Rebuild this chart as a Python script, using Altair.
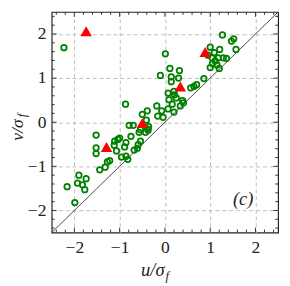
import altair as alt
import pandas as pd

# ---- data ----
green_u = [-2.23, -2.16, -1.99, -1.90, -1.93, -1.82, -1.74, -1.77, -1.52, -1.52,
           -1.52, -1.44, -1.32, -1.27, -1.22, -1.12, -1.11, -1.04, -1.00, -1.07,
           -0.89, -0.86, -0.75, -0.96, -0.86, -0.82, -0.68, -0.61, -0.54, -0.59,
           -0.79, -0.70, -0.57, -0.54, -0.39, -0.43, -0.87, -0.50, -0.39, -0.41,
           -0.36, -0.37, -0.18, -0.16, -0.10, -0.07, -0.04, 0.01, 0.07, 0.11,
           0.07, 0.09, 0.16, 0.14, 0.14, 0.20, 0.21, 0.20, 0.25, 0.32,
           0.30, 0.34, 0.39, 0.41, 0.57, 0.64, 0.70, 0.86, 1.00, 1.21,
           1.09, 1.29, 1.18, 1.04, 1.11, 1.00, 1.20, 1.36, 1.27, 1.47,
           1.52, 1.57, 0.95, 1.05, 1.15]
green_v = [1.69, -1.46, -1.82, -1.20, -1.38, -1.42, -1.28, -1.53, -0.29, -0.58,
           -0.71, -1.08, -1.02, -0.90, -0.87, -0.52, -0.43, -0.39, -0.36, -0.65,
           -0.56, -0.46, -0.32, -0.79, -0.77, -0.84, -0.63, -0.59, -0.43, -0.51,
           -0.07, -0.07, -0.23, -0.17, -0.15, -0.23, 0.41, 0.18, 0.26, 0.05,
           -0.10, -0.18, 0.37, 0.14, 1.06, 0.26, 0.11, 1.55, 0.30, 1.22,
           0.66, 0.51, 0.41, 1.03, 0.92, 0.70, 0.62, 0.23, 0.55, 1.17,
           1.00, 0.37, 0.49, 0.44, 0.78, 0.81, 0.85, 0.99, 1.70, 1.65,
           1.58, 1.46, 1.46, 1.46, 1.39, 1.24, 1.22, 1.45, 1.98, 1.84,
           1.89, 1.65, 1.52, 1.33, 1.30]

red_u = [-1.74, -1.29, -0.50, 0.34, 0.89]
red_v = [2.06, -0.56, -0.02, 0.81, 1.59]

diag = [-2.5, 2.5]
tick_labels = [-2, -1, 0, 1, 2]
minor_ticks = [-2.4, -2.2, -1.8, -1.6, -1.4, -1.2, -0.8, -0.6, -0.4, -0.2,
               0.2, 0.4, 0.6, 0.8, 1.2, 1.4, 1.6, 1.8, 2.2, 2.4]

x_title = ["u/σ"]
y_title = ["v/σ"]
sub_title = ["f"]
panel_label = ["(c)"]

W, H = 233, 227
FONT = "Liberation Serif"
DOM = [-2.5, 2.5]

xs = alt.Scale(domain=DOM, nice=False, zero=False)
ys = alt.Scale(domain=DOM, nice=False, zero=False)

green = pd.DataFrame({"u": green_u, "v": green_v})
red = pd.DataFrame({"u": red_u, "v": red_v})
diag_df = pd.DataFrame({"u": diag, "v": diag})

AX = dict(values=tick_labels, title=None, grid=True, gridDash=[4, 3], gridColor="#bdbdbd",
          gridWidth=1, ticks=False, tickSize=0, domain=False, labelFont=FONT, labelFontSize=18,
          labelColor="#222", labelFlush=False)

line = alt.Chart(diag_df).mark_line(color="#333", strokeWidth=0.9).encode(
    x=alt.X("u:Q", scale=xs, axis=alt.Axis(labelPadding=7, **AX)),
    y=alt.Y("v:Q", scale=ys, axis=alt.Axis(labelPadding=6, **AX)),
)

base = alt.Chart(green).mark_point(
    shape="circle", filled=False, color="#008000", size=32, strokeWidth=1.8, opacity=1
).encode(x=alt.X("u:Q", scale=xs), y=alt.Y("v:Q", scale=ys))

tri = alt.Chart(red).mark_point(
    shape="triangle-up", filled=True, color="#ff0000", size=140, opacity=1
).encode(x=alt.X("u:Q", scale=xs), y=alt.Y("v:Q", scale=ys))


def tick_layers(vals, length):
    dfx = pd.DataFrame({"u": vals})
    dfy = pd.DataFrame({"v": vals})
    cx = alt.Chart(dfx).mark_rule(color="#333", strokeWidth=1)
    cy = alt.Chart(dfy).mark_rule(color="#333", strokeWidth=1)
    xt = alt.X("u:Q", scale=xs)
    yt = alt.Y("v:Q", scale=ys)
    return [
        cx.encode(x=xt, y=alt.value(H), y2=alt.value(H - length)),
        cx.encode(x=xt, y=alt.value(0), y2=alt.value(length)),
        cy.encode(y=yt, x=alt.value(0), x2=alt.value(length)),
        cy.encode(y=yt, x=alt.value(W), x2=alt.value(W - length)),
    ]


ticks = tick_layers(tick_labels, 5) + tick_layers(minor_ticks, 3)

xt_main = alt.Chart(pd.DataFrame({"s": x_title})).mark_text(
    font=FONT, fontSize=19, fontStyle="italic", align="left", baseline="alphabetic", color="#222"
).encode(text="s:N", x=alt.value(92), y=alt.value(H + 45))
xt_sub = alt.Chart(pd.DataFrame({"s": sub_title})).mark_text(
    font=FONT, fontSize=13, fontStyle="italic", align="left", baseline="alphabetic", color="#222"
).encode(text="s:N", x=alt.value(92 + 25), y=alt.value(H + 49))

yt_main = alt.Chart(pd.DataFrame({"s": y_title})).mark_text(
    font=FONT, fontSize=18, fontStyle="italic", align="left", baseline="alphabetic", angle=270,
    color="#222"
).encode(text="s:N", x=alt.value(-30), y=alt.value(H / 2 + 19))
yt_sub = alt.Chart(pd.DataFrame({"s": sub_title})).mark_text(
    font=FONT, fontSize=13, fontStyle="italic", align="left", baseline="alphabetic", angle=270,
    color="#222"
).encode(text="s:N", x=alt.value(-26), y=alt.value(H / 2 + 19 - 24))

label = alt.Chart(pd.DataFrame({"s": panel_label})).mark_text(
    font=FONT, fontSize=19, fontStyle="italic", align="center", baseline="middle", color="#222"
).encode(text="s:N", x=alt.value(197), y=alt.value(193))

chart = alt.layer(line, base, tri, *ticks, xt_main, xt_sub, yt_main, yt_sub, label).properties(
    width=W, height=H,
    autosize=alt.AutoSizeParams(type="none"),
    padding={"left": 45, "top": 0, "right": 4, "bottom": 51},
).configure_view(stroke="#222", strokeWidth=1.2)

chart.save("out.html", embed_options={"renderer": "svg", "actions": False})
